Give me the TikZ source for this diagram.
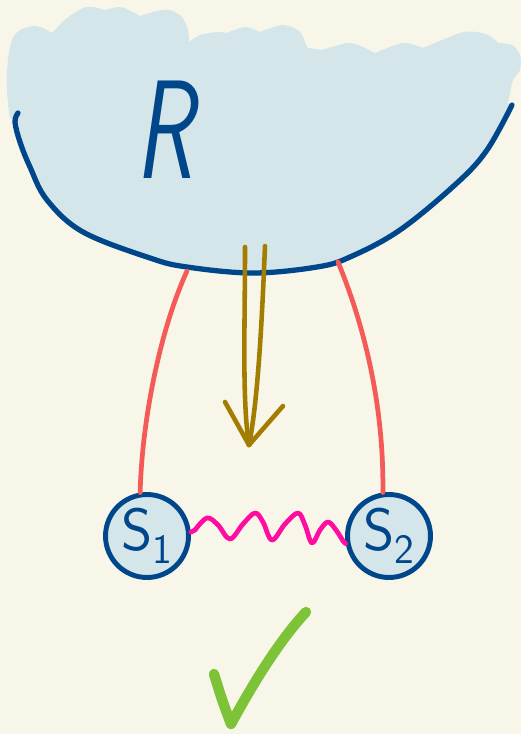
\documentclass[tikz,border=0pt]{standalone}
\definecolor{bg}{HTML}{F8F6E9}
\definecolor{cloudfill}{HTML}{D4E6E9}
\definecolor{inkblue}{HTML}{00468B}
\definecolor{redink}{HTML}{F45A58}
\definecolor{olive}{HTML}{A27D00}
\definecolor{magentaink}{HTML}{FF0DA1}
\definecolor{greenink}{HTML}{7DC337}
\tikzset{
  bluestroke/.style={draw=inkblue, line width=3pt, line cap=round, line join=round},
  state/.style={circle, draw=inkblue, fill=cloudfill, line width=2.8pt, minimum size=1.66cm, inner sep=0pt,
                text=inkblue, font=\sffamily\fontsize{34}{34}\selectfont},
  redline/.style={draw=redink, line width=2.7pt, line cap=round},
  oliveline/.style={draw=olive, line width=2.6pt, line cap=round, line join=round},
  wave/.style={draw=magentaink, line width=2.7pt, line cap=round, line join=round},
  check/.style={draw=greenink, line width=5.9pt, line cap=round, line join=round}
}
\begin{document}
\begin{tikzpicture}[x=0.02cm, y=-0.02cm]
\fill[bg] (0,0) rectangle (521,734);
\useasboundingbox (0,0) rectangle (521,734);
% cloud fill
\fill[cloudfill] (10,118) .. controls (5,90) and (6,55) .. (13,37)
  -- plot[smooth] coordinates {(13,37) (20,30) (33,26) (43,28) (52,33)}
  -- plot[smooth] coordinates {(52,33) (67,18) (83,8) (93,7) (105,10)}
  -- plot[smooth] coordinates {(105,10) (120,7) (133,12) (140,16)}
  -- plot[smooth] coordinates {(140,16) (157,11) (170,10) (182,17) (188,30) (189,42)}
  -- plot[smooth] coordinates {(189,42) (200,35) (217,32) (227,33)}
  -- plot[smooth] coordinates {(227,33) (245,27) (260,32)}
  -- plot[smooth] coordinates {(260,32) (283,25) (300,32) (307,47) (310,48)}
  -- (322,50)
  -- plot[smooth] coordinates {(322,50) (348,43) (363,47) (375,53)}
  -- plot[smooth] coordinates {(375,53) (403,43) (423,48)}
  -- plot[smooth] coordinates {(423,48) (460,33) (477,32) (490,36) (498,43)}
  -- plot[smooth] coordinates {(498,43) (512,45) (520,55) (520,70) (513,80) (510,93) (508,103)}
  -- plot[smooth, tension=0.6] coordinates {(512,105) (487,150) (457,183) (400,230) (350,257) (317,267) (253,273) (187,267) (150,258) (83,232) (47,200) (30,167) (20,142) (15,122)}
  -- cycle;
% cloud outline
\draw[bluestroke] plot[smooth, tension=0.6] coordinates {(18,113) (15,122) (20,142) (30,167) (47,200) (83,232) (150,258) (187,267) (253,273) (317,267) (350,257) (400,230) (457,183) (487,150) (512,105)};
\node[text=inkblue, font=\sffamily\itshape\fontsize{80}{80}\selectfont] (R) at (164,130) {\scalebox{0.68}[1]{R}};
% anchor points on the cloud
\coordinate (cL) at (187,271);
\coordinate (cR) at (338,262);
\coordinate (aL) at (245,247);
\coordinate (aR) at (265,246);
\coordinate (tip) at (249,445);
\coordinate (hL) at (225,402);
\coordinate (hR) at (283,406);
% states
\node[state] (S1) at (147,536) {S\textsubscript{1}};
\node[state] (S2) at (389,536) {S\textsubscript{2}};
% connectors
\draw[redline] (cL) .. controls (160,330) and (142,420) .. (S1.99);
\draw[redline] (cR) .. controls (362,320) and (384,400) .. (S2.98);
\draw[oliveline] (aL) .. controls (245,330) and (242,400) .. (tip);
\draw[oliveline] (aR) .. controls (262,320) and (258,400) .. (tip);
\draw[oliveline] (hL) -- (tip) -- (hR);
\draw[wave] (S1.5) -- plot[smooth, tension=0.6] coordinates {(195,530) (207,518) (218,525) (230,539) (243,524) (255,513) (263,522) (272,540) (285,524) (298,513) (305,525) (312,543) (320,530) (328,522) (336,530) (343,541)} -- (S2.190);
% check mark
\draw[check] (214,674) .. controls (222,700) .. (231,724) .. controls (255,680) and (280,640) .. (306,612);
\end{tikzpicture}
\end{document}
